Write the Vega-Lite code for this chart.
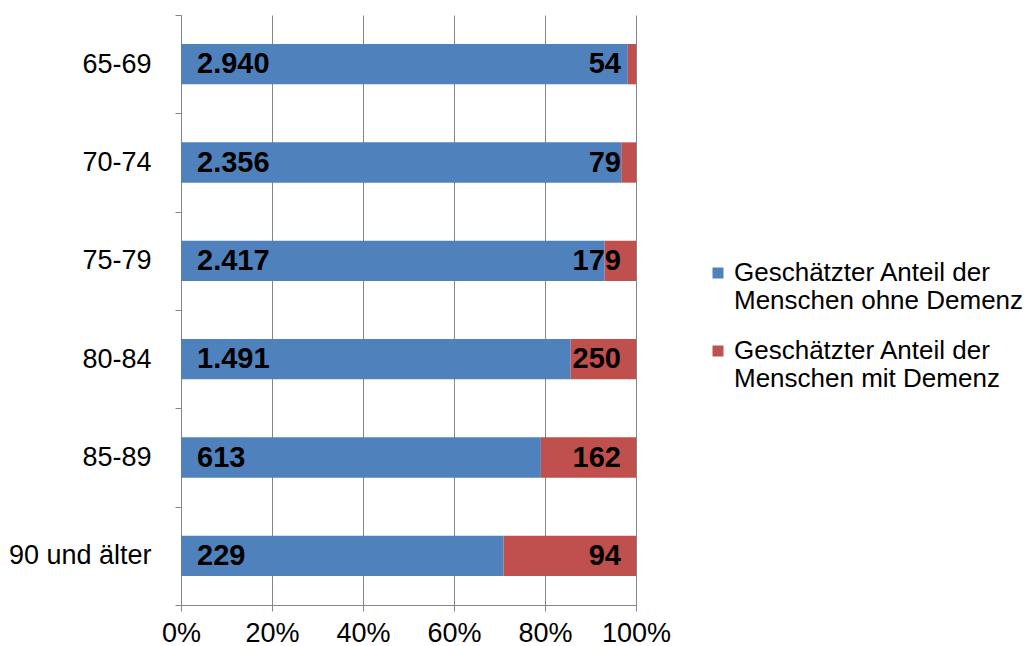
{
  "$schema": "https://vega.github.io/schema/vega-lite/v6.json",
  "autosize": "none",
  "padding": {"left": 181, "top": 15, "right": 395, "bottom": 41},
  "width": 455,
  "height": 590,
  "background": "white",
  "config": {
    "view": {"stroke": null},
    "font": "Liberation Sans",
    "locale": {"number": {"decimal": ",", "thousands": ".", "grouping": [3], "currency": ["", " €"]}}
  },
  "data": {
    "values": [
      {"age": "65-69", "group": "Geschätzter Anteil der|Menschen ohne Demenz", "value": 2940},
      {"age": "65-69", "group": "Geschätzter Anteil der|Menschen mit Demenz", "value": 54},
      {"age": "70-74", "group": "Geschätzter Anteil der|Menschen ohne Demenz", "value": 2356},
      {"age": "70-74", "group": "Geschätzter Anteil der|Menschen mit Demenz", "value": 79},
      {"age": "75-79", "group": "Geschätzter Anteil der|Menschen ohne Demenz", "value": 2417},
      {"age": "75-79", "group": "Geschätzter Anteil der|Menschen mit Demenz", "value": 179},
      {"age": "80-84", "group": "Geschätzter Anteil der|Menschen ohne Demenz", "value": 1491},
      {"age": "80-84", "group": "Geschätzter Anteil der|Menschen mit Demenz", "value": 250},
      {"age": "85-89", "group": "Geschätzter Anteil der|Menschen ohne Demenz", "value": 613},
      {"age": "85-89", "group": "Geschätzter Anteil der|Menschen mit Demenz", "value": 162},
      {"age": "90 und älter", "group": "Geschätzter Anteil der|Menschen ohne Demenz", "value": 229},
      {"age": "90 und älter", "group": "Geschätzter Anteil der|Menschen mit Demenz", "value": 94}
    ]
  },
  "encoding": {
    "y": {
      "field": "age",
      "type": "nominal",
      "sort": null,
      "scale": {"paddingInner": 0, "paddingOuter": 0},
      "axis": {
        "title": null,
        "tickBand": "extent",
        "domainColor": "#868686",
        "tickColor": "#868686",
        "tickSize": 6,
        "labelFontSize": 27,
        "labelColor": "#000000",
        "labelPadding": 24,
        "grid": false
      }
    }
  },
  "layer": [
    {
      "mark": {"type": "bar", "height": {"band": 0.41}},
      "encoding": {
        "x": {
          "field": "value",
          "type": "quantitative",
          "stack": "normalize",
          "scale": {"domain": [0, 1], "nice": false},
          "axis": {
            "title": null,
            "values": [0, 0.2, 0.4, 0.6, 0.8, 1],
            "format": ".0%",
            "grid": true,
            "gridColor": "#868686",
            "gridWidth": 1,
            "domainColor": "#868686",
            "tickColor": "#868686",
            "tickSize": 6,
            "labelFontSize": 27,
            "labelColor": "#000000",
            "labelPadding": 9,
            "labelFlush": false
          }
        },
        "order": {"field": "group", "sort": "descending"},
        "color": {
          "field": "group",
          "type": "nominal",
          "sort": ["Geschätzter Anteil der|Menschen ohne Demenz", "Geschätzter Anteil der|Menschen mit Demenz"],
          "scale": {"range": ["#4F81BD", "#C0504D"]},
          "legend": {
            "title": null,
            "orient": "none",
            "legendX": 524,
            "legendY": 245,
            "symbolType": "square",
            "symbolSize": 121,
            "symbolStrokeWidth": 0,
            "labelFontSize": 26,
            "labelColor": "#000000",
            "labelLimit": 500,
            "labelOffset": 3,
            "labelExpr": "split(datum.label, '|')",
            "rowPadding": 24
          }
        }
      }
    },
    {
      "transform": [{"filter": "indexof(datum.group, 'ohne') >= 0"}],
      "mark": {"type": "text", "align": "left", "baseline": "middle", "dx": 16, "fontSize": 29, "fontWeight": "bold", "color": "#000000"},
      "encoding": {
        "x": {"datum": 0},
        "text": {"field": "value", "type": "quantitative", "format": ",d"}
      }
    },
    {
      "transform": [{"filter": "indexof(datum.group, 'mit') >= 0"}],
      "mark": {"type": "text", "align": "right", "baseline": "middle", "dx": -15, "fontSize": 29, "fontWeight": "bold", "color": "#000000"},
      "encoding": {
        "x": {"datum": 1},
        "text": {"field": "value", "type": "quantitative", "format": ",d"}
      }
    }
  ]
}
